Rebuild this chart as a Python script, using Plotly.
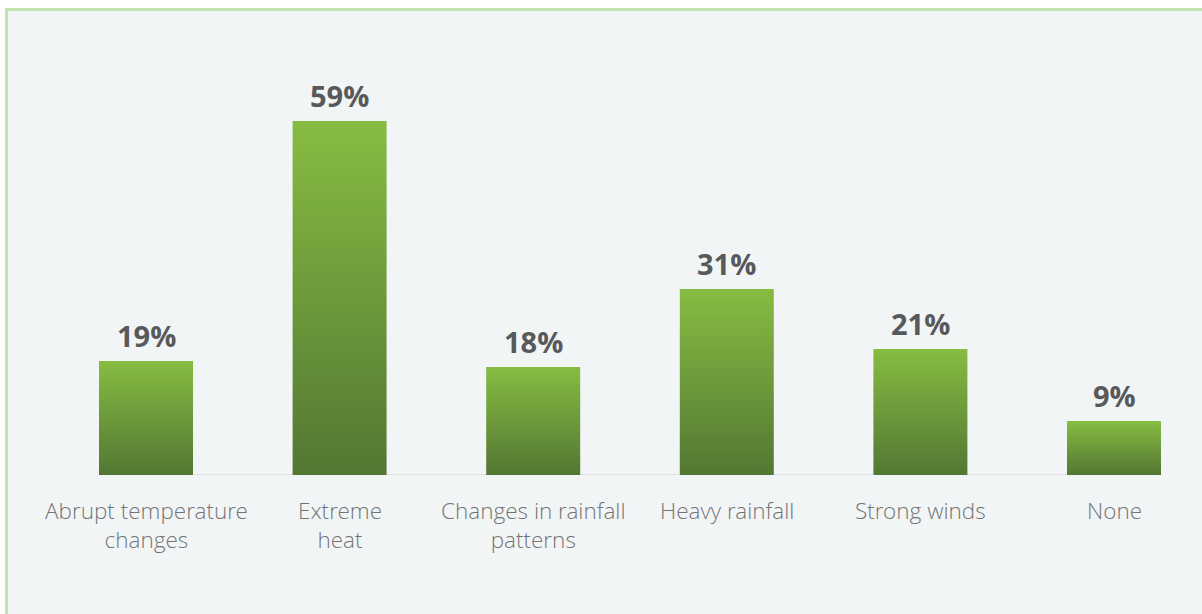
import plotly.graph_objects as go

categories = ["Abrupt temperature<br>changes", "Extreme<br>heat", "Changes in rainfall<br>patterns",
              "Heavy rainfall", "Strong winds", "None"]
values = [19, 59, 18, 31, 21, 9]
value_labels = ["19%", "59%", "18%", "31%", "21%", "9%"]

W, H = 1202, 614
AXIS_PX = 475          # pixel row of the baseline
PX_PER_UNIT = 6.0
X0_PX, STEP_PX = 146, 193.6
BAR_W = 94 / STEP_PX

TOP_COLOR = "#87bc42"
BOTTOM_COLOR = "#537733"

fig = go.Figure()

for i, v in enumerate(values):
    xl, xr = i - BAR_W / 2, i + BAR_W / 2
    fig.add_trace(go.Scatter(
        x=[xl, xr, xr, xl, xl], y=[0, 0, v, v, 0],
        mode="lines", fill="toself", line=dict(width=0),
        fillgradient=dict(type="vertical",
                          colorscale=[[0, BOTTOM_COLOR], [1, TOP_COLOR]]),
        hoverinfo="skip", showlegend=False,
    ))
    fig.add_annotation(x=i, y=v, text=f"<b>{value_labels[i]}</b>", showarrow=False,
                       yanchor="bottom", yshift=4,
                       font=dict(family="Open Sans", size=29, color="#58595b"))
    fig.add_annotation(x=i, y=0, text=categories[i], showarrow=False,
                       yanchor="top", yshift=-17.5,
                       font=dict(family="Open Sans Light, Open Sans", size=22.5,
                                 color="#737373", weight=300))

# plot area spans full width, from top to baseline
x_lo = (0 - X0_PX) / STEP_PX
x_hi = (W - X0_PX) / STEP_PX
y_hi = AXIS_PX / PX_PER_UNIT

def px(xp):
    return xp / W

def py(yp):
    return (AXIS_PX - yp) / AXIS_PX

shapes = [
    dict(type="rect", xref="paper", yref="paper",
         x0=px(6.5), x1=px(1400), y0=py(9.5), y1=py(900),
         line=dict(color="#c5e3b1", width=3), fillcolor="#f2f5f6", layer="below"),
    dict(type="line", xref="x", yref="y", x0=0, x1=len(values) - 1, y0=0, y1=0,
         line=dict(color="#dfe3e4", width=2), layer="below"),
]

fig.update_layout(
    width=W, height=H,
    margin=dict(l=0, r=0, t=0, b=H - AXIS_PX),
    paper_bgcolor="white", plot_bgcolor="rgba(0,0,0,0)",
    shapes=shapes,
    xaxis=dict(range=[x_lo, x_hi], visible=False, fixedrange=True),
    yaxis=dict(range=[0, y_hi], visible=False, fixedrange=True),
    showlegend=False,
)

fig.write_html("out.html", config={"displayModeBar": False},
               post_script="document.body.style.margin='0';document.body.style.overflow='hidden';")
